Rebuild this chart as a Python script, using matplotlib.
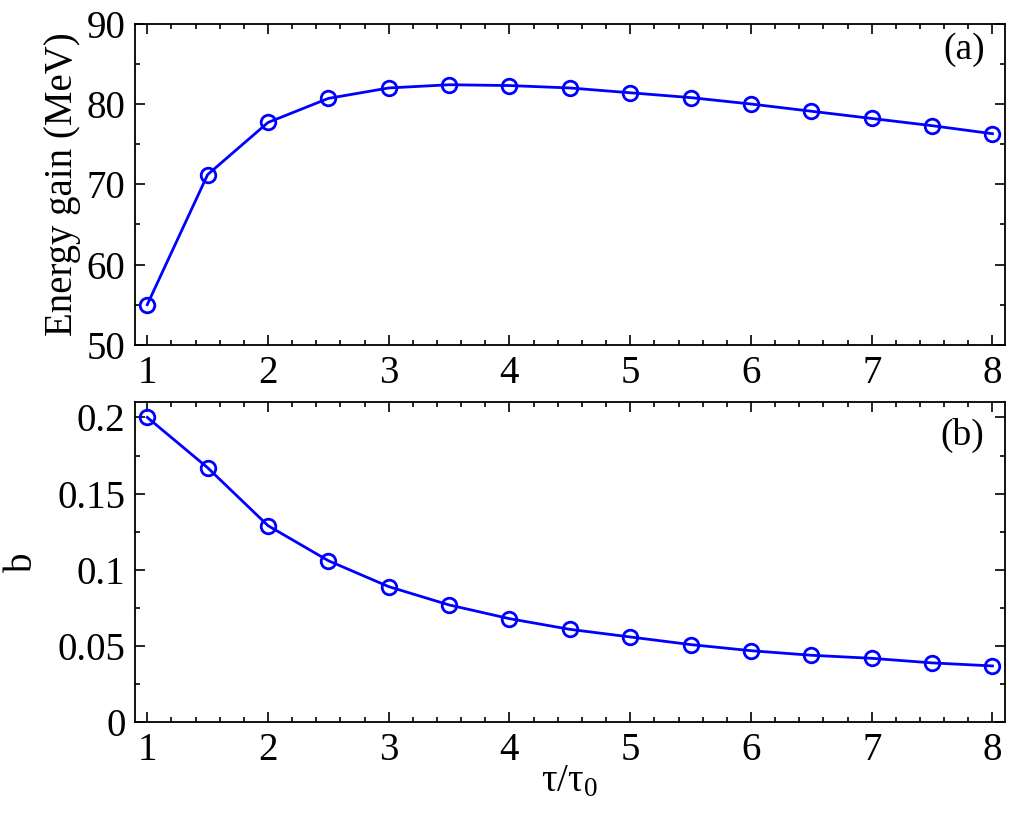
import numpy as np
import matplotlib
matplotlib.use('Agg')
import matplotlib.pyplot as plt
from matplotlib.ticker import MultipleLocator

plt.rcParams['font.family'] = ['Liberation Serif', 'DejaVu Serif']
plt.rcParams['mathtext.fontset'] = 'custom'
plt.rcParams['mathtext.rm'] = 'Liberation Serif'

# 数据
tau_ratio = [1, 1.5, 2, 2.5, 3, 3.5, 4, 4.5, 5, 5.5, 6, 6.5, 7, 7.5, 8]
energy_gain = [55.0, 71.2, 77.7, 80.7, 82.0, 82.4, 82.3, 82.0, 81.4, 80.8,
               80.0, 79.1, 78.2, 77.3, 76.3]
b_values = [0.200, 0.167, 0.129, 0.106, 0.089, 0.077, 0.068, 0.061, 0.056,
            0.051, 0.047, 0.044, 0.042, 0.039, 0.037]

fig = plt.figure(figsize=(10.24, 8.19), dpi=100)
ax1 = fig.add_axes([0.132, 0.579, 0.849, 0.392])
ax2 = fig.add_axes([0.132, 0.118, 0.849, 0.391])

style = dict(color='#0000ff', lw=2.0, marker='o', markersize=10.5,
             markerfacecolor='none', markeredgewidth=2.0)

ax1.plot(tau_ratio, energy_gain, **style)
ax2.plot(tau_ratio, b_values, **style)

for ax in (ax1, ax2):
    ax.set_xlim(0.9, 8.1)
    ax.xaxis.set_major_locator(MultipleLocator(1))
    ax.xaxis.set_minor_locator(MultipleLocator(0.2))
    ax.tick_params(which='both', direction='in', top=True, right=True,
                   labelsize=28, width=1.2)
    ax.tick_params(which='major', length=7, pad=7)
    ax.tick_params(which='minor', length=3.5)
    for s in ax.spines.values():
        s.set_linewidth(1.3)

ax1.set_ylim(50, 90)
ax1.yaxis.set_major_locator(MultipleLocator(10))
ax1.yaxis.set_minor_locator(MultipleLocator(5))
ax1.set_ylabel('Energy gain (MeV)', fontsize=28, labelpad=4)
ax1.text(0.977, 0.92, '(a)', transform=ax1.transAxes, ha='right', va='center',
         fontsize=27)

ax2.set_ylim(0, 0.21)
ax2.yaxis.set_major_locator(MultipleLocator(0.05))
ax2.yaxis.set_minor_locator(MultipleLocator(0.025))
ax2.set_yticks([0, 0.05, 0.1, 0.15, 0.2])
ax2.set_yticklabels(['0', '0.05', '0.1', '0.15', '0.2'])
ax2.set_ylabel('b', fontsize=28, labelpad=12)
ax2.set_xlabel(r'$\mathregular{τ/τ_0}$', fontsize=28, labelpad=-4)
ax2.text(0.977, 0.897, '(b)', transform=ax2.transAxes, ha='right', va='center',
         fontsize=27)

fig.savefig('out.png', dpi=100)
